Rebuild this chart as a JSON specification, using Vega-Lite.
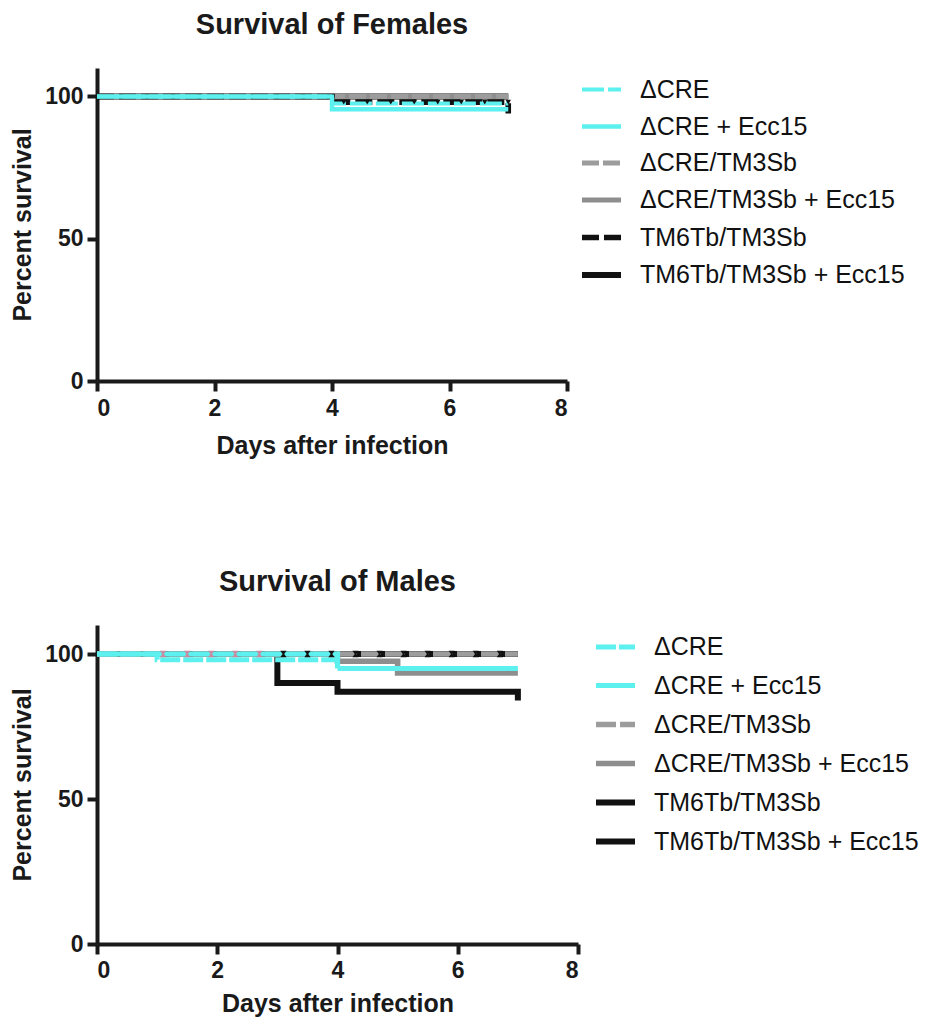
{
  "$schema": "https://vega.github.io/schema/vega-lite/v6.json",
  "padding": {"left": 10, "top": 11, "right": 2, "bottom": 2},
  "background": "white",
  "config": {
    "font": "Liberation Sans",
    "view": {"stroke": null},
    "axis": {
      "grid": false,
      "domainColor": "#1a1a1a",
      "domainWidth": 4,
      "tickColor": "#1a1a1a",
      "tickWidth": 4,
      "tickSize": 10,
      "labelFont": "Liberation Sans",
      "labelFontSize": 23,
      "labelFontWeight": "bold",
      "labelColor": "#1a1a1a",
      "titleFont": "Liberation Sans",
      "titleFontSize": 25,
      "titleFontWeight": "bold",
      "titleColor": "#1a1a1a",
      "format": "d"
    },
    "axisX": {"labelPadding": 6, "titlePadding": 12},
    "axisY": {"labelPadding": 4, "titlePadding": 9},
    "legend": {
      "title": null,
      "orient": "right",
      "offset": 12,
      "symbolType": "stroke",
      "symbolSize": 1521,
      "rowPadding": 4,
      "labelFont": "Liberation Sans",
      "labelFontSize": 25,
      "labelColor": "#111111",
      "labelOffset": 16,
      "labelLimit": 400
    },
    "title": {
      "font": "Liberation Sans",
      "fontSize": 29,
      "fontWeight": "bold",
      "color": "#1a1a1a",
      "anchor": "middle",
      "offset": 28
    }
  },
  "datasets": {
    "curves": [
      {"sex": "F", "group": "TM6Tb/TM3Sb + Ecc15", "day": 0, "pct": 100},
      {"sex": "F", "group": "TM6Tb/TM3Sb + Ecc15", "day": 7, "pct": 100},
      {"sex": "F", "group": "ΔCRE/TM3Sb + Ecc15", "day": 0, "pct": 100},
      {"sex": "F", "group": "ΔCRE/TM3Sb + Ecc15", "day": 7, "pct": 100},
      {"sex": "F", "group": "ΔCRE/TM3Sb", "day": 0, "pct": 100},
      {"sex": "F", "group": "ΔCRE/TM3Sb", "day": 7, "pct": 100},
      {"sex": "F", "group": "TM6Tb/TM3Sb", "day": 0, "pct": 100},
      {"sex": "F", "group": "TM6Tb/TM3Sb", "day": 4, "pct": 98},
      {"sex": "F", "group": "TM6Tb/TM3Sb", "day": 7, "pct": 98},
      {"sex": "F", "group": "TM6Tb/TM3Sb", "day": 7, "pct": 94},
      {"sex": "F", "group": "ΔCRE", "day": 0, "pct": 100},
      {"sex": "F", "group": "ΔCRE", "day": 4, "pct": 97.5},
      {"sex": "F", "group": "ΔCRE", "day": 7, "pct": 97.5},
      {"sex": "F", "group": "ΔCRE + Ecc15", "day": 0, "pct": 100},
      {"sex": "F", "group": "ΔCRE + Ecc15", "day": 4, "pct": 95.5},
      {"sex": "F", "group": "ΔCRE + Ecc15", "day": 7, "pct": 95.5},

      {"sex": "M", "group": "TM6Tb/TM3Sb", "day": 0, "pct": 100},
      {"sex": "M", "group": "TM6Tb/TM3Sb", "day": 7, "pct": 100},
      {"sex": "M", "group": "TM6Tb/TM3Sb + Ecc15", "day": 0, "pct": 100},
      {"sex": "M", "group": "TM6Tb/TM3Sb + Ecc15", "day": 3, "pct": 90},
      {"sex": "M", "group": "TM6Tb/TM3Sb + Ecc15", "day": 4, "pct": 87},
      {"sex": "M", "group": "TM6Tb/TM3Sb + Ecc15", "day": 7, "pct": 87},
      {"sex": "M", "group": "TM6Tb/TM3Sb + Ecc15", "day": 7, "pct": 84},
      {"sex": "M", "group": "ΔCRE/TM3Sb + Ecc15", "day": 0, "pct": 100},
      {"sex": "M", "group": "ΔCRE/TM3Sb + Ecc15", "day": 4, "pct": 97.5},
      {"sex": "M", "group": "ΔCRE/TM3Sb + Ecc15", "day": 5, "pct": 93.5},
      {"sex": "M", "group": "ΔCRE/TM3Sb + Ecc15", "day": 7, "pct": 93.5},
      {"sex": "M", "group": "ΔCRE/TM3Sb", "day": 0, "pct": 100},
      {"sex": "M", "group": "ΔCRE/TM3Sb", "day": 7, "pct": 100},
      {"sex": "M", "group": "ΔCRE", "day": 0, "pct": 100},
      {"sex": "M", "group": "ΔCRE", "day": 1, "pct": 98},
      {"sex": "M", "group": "ΔCRE", "day": 4, "pct": 98},
      {"sex": "M", "group": "ΔCRE + Ecc15", "day": 0, "pct": 100},
      {"sex": "M", "group": "ΔCRE + Ecc15", "day": 4, "pct": 95},
      {"sex": "M", "group": "ΔCRE + Ecc15", "day": 7, "pct": 95}
    ],
    "censor": [
      {"sex": "F", "kind": "black", "day": 4.2, "pct": 98},
      {"sex": "F", "kind": "black", "day": 4.6, "pct": 98},
      {"sex": "F", "kind": "black", "day": 5.0, "pct": 98},
      {"sex": "F", "kind": "black", "day": 5.4, "pct": 98},
      {"sex": "F", "kind": "black", "day": 5.8, "pct": 98},
      {"sex": "F", "kind": "black", "day": 6.2, "pct": 98},
      {"sex": "F", "kind": "black", "day": 6.6, "pct": 98},
      {"sex": "F", "kind": "black", "day": 7.0, "pct": 98},
      {"sex": "M", "kind": "pink", "day": 1.1, "pct": 100},
      {"sex": "M", "kind": "pink", "day": 1.5, "pct": 100},
      {"sex": "M", "kind": "pink", "day": 1.9, "pct": 100},
      {"sex": "M", "kind": "pink", "day": 2.3, "pct": 100},
      {"sex": "M", "kind": "pink", "day": 2.7, "pct": 100},
      {"sex": "M", "kind": "black", "day": 3.1, "pct": 100},
      {"sex": "M", "kind": "black", "day": 3.5, "pct": 100},
      {"sex": "M", "kind": "black", "day": 3.9, "pct": 100},
      {"sex": "M", "kind": "black", "day": 4.3, "pct": 100},
      {"sex": "M", "kind": "black", "day": 4.7, "pct": 100},
      {"sex": "M", "kind": "black", "day": 5.1, "pct": 100},
      {"sex": "M", "kind": "black", "day": 5.5, "pct": 100},
      {"sex": "M", "kind": "black", "day": 5.9, "pct": 100},
      {"sex": "M", "kind": "black", "day": 6.3, "pct": 100},
      {"sex": "M", "kind": "black", "day": 6.7, "pct": 100}
    ]
  },
  "spacing": 110,
  "vconcat": [
    {
      "title": "Survival of Females",
      "width": 470,
      "height": 313,
      "layer": [
        {
          "data": {"name": "curves"},
          "transform": [{"filter": "datum.sex === 'F'"}],
          "mark": {"type": "line", "interpolate": "step-after", "strokeCap": "butt"},
          "encoding": {
            "x": {"field": "day", "type": "quantitative", "scale": {"domain": [0, 8], "nice": false}, "axis": {"values": [0, 2, 4, 6, 8], "title": "Days after infection", "titlePadding": 13}},
            "y": {"field": "pct", "type": "quantitative", "scale": {"domain": [0, 110], "nice": false}, "axis": {"values": [0, 50, 100], "title": "Percent survival"}},
            "color": {"field": "group", "type": "nominal",
              "legend": {"rowPadding": 1.5},
              "scale": {"domain": ["ΔCRE", "ΔCRE + Ecc15", "ΔCRE/TM3Sb", "ΔCRE/TM3Sb + Ecc15", "TM6Tb/TM3Sb", "TM6Tb/TM3Sb + Ecc15"],
                        "range": ["#5cf0ee", "#5cf0ee", "#9c9c9c", "#8e8e8e", "#111111", "#111111"]}},
            "strokeDash": {"field": "group", "type": "nominal",
              "legend": {"rowPadding": 1.5},
              "scale": {"domain": ["ΔCRE", "ΔCRE + Ecc15", "ΔCRE/TM3Sb", "ΔCRE/TM3Sb + Ecc15", "TM6Tb/TM3Sb", "TM6Tb/TM3Sb + Ecc15"],
                        "range": [[22, 4], [1, 0], [17, 4], [1, 0], [17, 5], [1, 0]]}},
            "strokeWidth": {"field": "group", "type": "nominal",
              "legend": {"rowPadding": 1.5},
              "scale": {"domain": ["ΔCRE", "ΔCRE + Ecc15", "ΔCRE/TM3Sb", "ΔCRE/TM3Sb + Ecc15", "TM6Tb/TM3Sb", "TM6Tb/TM3Sb + Ecc15"],
                        "range": [4, 6, 5, 7, 5, 4]}}
          }
        },
        {
          "data": {"name": "censor"},
          "transform": [{"filter": "datum.sex === 'F'"}],
          "mark": {"type": "point", "shape": "triangle-down", "filled": true, "size": 30, "color": "#111111", "opacity": 1},
          "encoding": {
            "x": {"field": "day", "type": "quantitative"},
            "y": {"field": "pct", "type": "quantitative"}
          }
        }
      ]
    },
    {
      "title": "Survival of Males",
      "width": 481,
      "height": 319,
      "layer": [
        {
          "data": {"name": "curves"},
          "transform": [{"filter": "datum.sex === 'M'"}],
          "mark": {"type": "line", "interpolate": "step-after", "strokeCap": "butt"},
          "encoding": {
            "x": {"field": "day", "type": "quantitative", "scale": {"domain": [0, 8], "nice": false}, "axis": {"values": [0, 2, 4, 6, 8], "title": "Days after infection", "titlePadding": 9, "labelPadding": 5}},
            "y": {"field": "pct", "type": "quantitative", "scale": {"domain": [0, 110], "nice": false}, "axis": {"values": [0, 50, 100], "title": "Percent survival"}},
            "color": {"field": "group", "type": "nominal",
              "legend": {"rowPadding": 3, "offset": 15},
              "scale": {"domain": ["ΔCRE", "ΔCRE + Ecc15", "ΔCRE/TM3Sb", "ΔCRE/TM3Sb + Ecc15", "TM6Tb/TM3Sb", "TM6Tb/TM3Sb + Ecc15"],
                        "range": ["#5cf0ee", "#5cf0ee", "#9c9c9c", "#8e8e8e", "#111111", "#111111"]}},
            "strokeDash": {"field": "group", "type": "nominal",
              "legend": {"rowPadding": 3, "offset": 15},
              "scale": {"domain": ["ΔCRE", "ΔCRE + Ecc15", "ΔCRE/TM3Sb", "ΔCRE/TM3Sb + Ecc15", "TM6Tb/TM3Sb", "TM6Tb/TM3Sb + Ecc15"],
                        "range": [[20, 3], [1, 0], [20, 4], [1, 0], [1, 0], [1, 0]]}},
            "strokeWidth": {"field": "group", "type": "nominal",
              "legend": {"rowPadding": 3, "offset": 15},
              "scale": {"domain": ["ΔCRE", "ΔCRE + Ecc15", "ΔCRE/TM3Sb", "ΔCRE/TM3Sb + Ecc15", "TM6Tb/TM3Sb", "TM6Tb/TM3Sb + Ecc15"],
                        "range": [5, 6, 6, 6, 4, 6]}}
          }
        },
        {
          "data": {"name": "censor"},
          "transform": [{"filter": "datum.sex === 'M' && datum.kind === 'pink'"}],
          "mark": {"type": "point", "shape": "M-1,-1L1,-1L0.25,0L1,1L-1,1L-0.25,0Z", "filled": true, "size": 40, "color": "#c98ba0", "opacity": 1},
          "encoding": {
            "x": {"field": "day", "type": "quantitative"},
            "y": {"field": "pct", "type": "quantitative"}
          }
        },
        {
          "data": {"name": "censor"},
          "transform": [{"filter": "datum.sex === 'M' && datum.kind === 'black'"}],
          "mark": {"type": "point", "shape": "M-1,-1L1,-1L0.25,0L1,1L-1,1L-0.25,0Z", "filled": true, "size": 40, "color": "#111111", "opacity": 1},
          "encoding": {
            "x": {"field": "day", "type": "quantitative"},
            "y": {"field": "pct", "type": "quantitative"}
          }
        }
      ]
    }
  ],
  "resolve": {
    "scale": {"color": "independent", "strokeDash": "independent", "strokeWidth": "independent"},
    "legend": {"color": "independent", "strokeDash": "independent", "strokeWidth": "independent"}
  }
}
